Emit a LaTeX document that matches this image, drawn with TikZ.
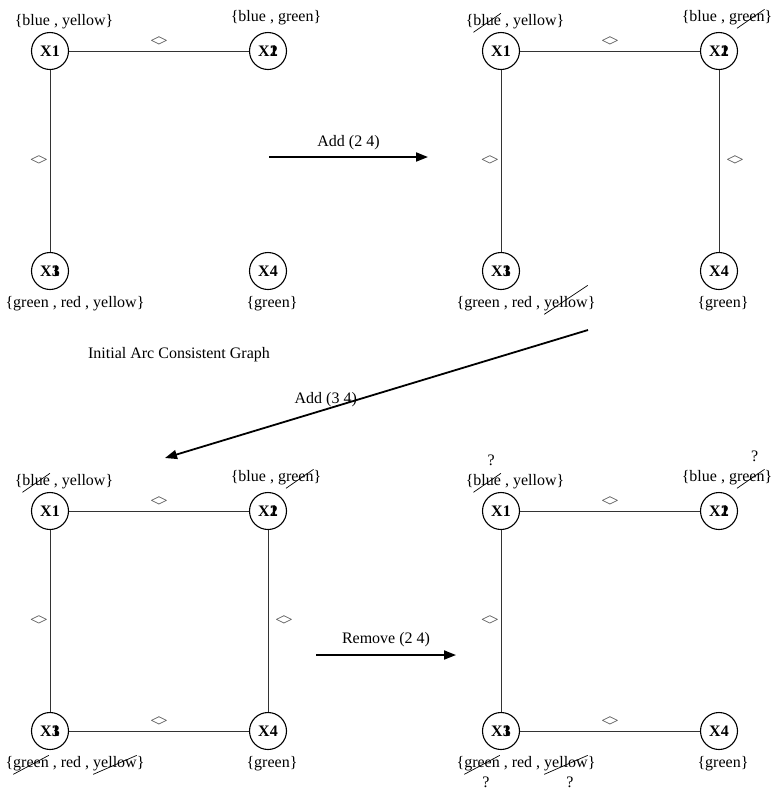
\documentclass[tikz,border=0pt]{standalone}
\usepackage{fontspec}
\setmainfont{Liberation Serif}
\usetikzlibrary{arrows.meta,positioning}

\tikzset{
  var/.style={circle,draw,line width=1.1pt,minimum size=37pt,inner sep=0pt,
    font=\fontsize{16}{19}\selectfont\bfseries},
  dom/.style={inner sep=0pt},
  arc/.style={line width=0.8pt,draw=black!80},
  neq/.style={inner sep=0pt,text=black!70,font=\fontsize{17}{19}\selectfont},
  move/.style={line width=1.8pt,-{Triangle[length=12pt,width=9pt]}},
  slash/.style={line width=0.7pt},
}

% the "not equal" mark on an arc
\newcommand{\neqmark}{<\kern-1.8pt>}
% struck-out value, optional height of the upper end
\newcommand{\crossout}[2][12pt]{\tikz[baseline=(w.base)]{%
  \node[inner sep=0pt,outer sep=0pt] (w) {#2};
  \draw[overlay,slash] ([yshift=-7pt]w.base west) -- ([yshift=#1]w.base east);}}
% struck-out value with a question mark (shift of the mark)
\newcommand{\doubt}[2]{\tikz[baseline=(w.base)]{%
  \node[inner sep=0pt,outer sep=0pt] (w) {#2};
  \draw[overlay,slash] ([yshift=-7pt]w.base west) -- ([yshift=12pt]w.base east);
  \node[overlay,inner sep=0pt,anchor=base] at ([xshift=4pt,yshift=#1]w.base) {?};}}

\begin{document}
\begin{tikzpicture}[x=1pt,y=-1pt,font=\fontsize{16}{19}\selectfont]
  \useasboundingbox (0,0) rectangle (774,812);

  % the four variables of every graph
  \foreach \p/\dx/\dy in {p1/0/0,p2/451/0,p3/0/460,p4/451/460}{
    \node[var] (\p a) at (50+\dx,51+\dy) {X1};
    \node[var] (\p b) at (268+\dx,51+\dy) {X\rlap{1}2};
    \node[var] (\p c) at (50+\dx,271+\dy) {X\rlap{1}3};
    \node[var] (\p d) at (268+\dx,271+\dy) {X4};
  }

  % initial graph
  \draw[arc] (p1a) -- node[neq,above=4pt] {\neqmark} (p1b);
  \draw[arc] (p1a) -- node[neq,left=2pt] {\neqmark} (p1c);
  \node[dom,above=3pt of p1a,xshift=14pt] {\{blue , yellow\}};
  \node[dom,above=7pt of p1b,xshift=8pt] {\{blue , green\}};
  \node[dom,below=6pt of p1c,xshift=25pt] {\{green , red , yellow\}};
  \node[dom,below=6pt of p1d,xshift=4pt] {\{green\}};
  \node (title) at (179,355) {Initial Arc Consistent Graph};

  % after adding (2 4)
  \draw[arc] (p2a) -- node[neq,above=4pt] {\neqmark} (p2b);
  \draw[arc] (p2a) -- node[neq,left=2pt] {\neqmark} (p2c);
  \draw[arc] (p2b) -- node[neq,right=7pt] {\neqmark} (p2d);
  \node[dom,above=3pt of p2a,xshift=14pt] {\{\crossout{blue} , yellow\}};
  \node[dom,above=7pt of p2b,xshift=8pt] {\{blue , g\crossout{reen}\}};
  \node[dom,below=6pt of p2c,xshift=25pt] {\{green , red , \crossout[22pt]{yellow}\}};
  \node[dom,below=6pt of p2d,xshift=4pt] {\{green\}};

  % after adding (3 4)
  \draw[arc] (p3a) -- node[neq,above=4pt] {\neqmark} (p3b);
  \draw[arc] (p3a) -- node[neq,left=2pt] {\neqmark} (p3c);
  \draw[arc] (p3b) -- node[neq,right=7pt] {\neqmark} (p3d);
  \draw[arc] (p3c) -- node[neq,above=4pt] {\neqmark} (p3d);
  \node[dom,above=3pt of p3a,xshift=14pt] {\{\crossout{blue} , yellow\}};
  \node[dom,above=7pt of p3b,xshift=8pt] {\{blue , g\crossout{reen}\}};
  \node[dom,below=6pt of p3c,xshift=25pt] {\{\crossout{green} , red , \crossout{yellow}\}};
  \node[dom,below=6pt of p3d,xshift=4pt] {\{green\}};

  % after removing (2 4)
  \draw[arc] (p4a) -- node[neq,above=4pt] {\neqmark} (p4b);
  \draw[arc] (p4a) -- node[neq,left=2pt] {\neqmark} (p4c);
  \draw[arc] (p4c) -- node[neq,above=4pt] {\neqmark} (p4d);
  \node[dom,above=3pt of p4a,xshift=14pt] {\{\doubt{20pt}{blue} , yellow\}};
  \node[dom,above=7pt of p4b,xshift=8pt] {\{blue , g\doubt{20pt}{reen}\}};
  \node[dom,below=6pt of p4c,xshift=25pt] {\{\doubt{-20pt}{green} , red , \doubt{-20pt}{yellow}\}};
  \node[dom,below=6pt of p4d,xshift=4pt] {\{green\}};

  % steps between the graphs
  \coordinate (add24s) at (269,157);
  \coordinate (add24e) at (428,157);
  \draw[move] (add24s) -- node[yshift=14pt] {Add (2 4)} (add24e);
  \coordinate (add34s) at (588,330);
  \coordinate (add34e) at (165,458);
  \draw[move] (add34s) -- node[pos=0.62,yshift=10pt] {Add (3 4)} (add34e);
  \coordinate (rem24s) at (316,655);
  \coordinate (rem24e) at (456,655);
  \draw[move] (rem24s) -- node[yshift=15pt] {Remove (2 4)} (rem24e);
\end{tikzpicture}
\end{document}
